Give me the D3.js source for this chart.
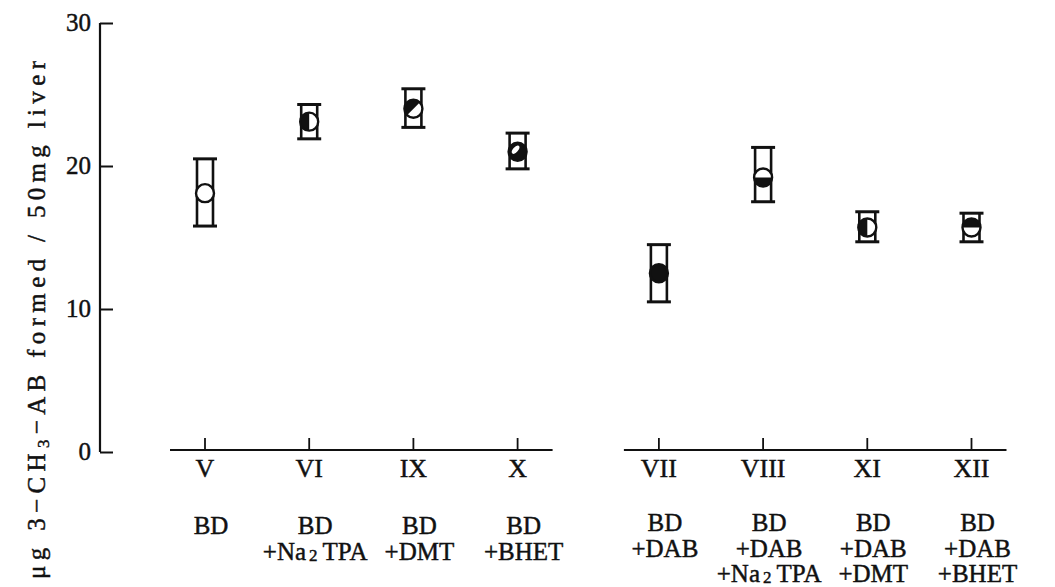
<!DOCTYPE html>
<html>
<head>
<meta charset="utf-8">
<script src="https://cdn.jsdelivr.net/npm/d3@7"></script>
<style>
  html, body { margin: 0; padding: 0; background: #fff; }
  svg { display: block; }
</style>
</head>
<body>
<svg id="chart" width="1055" height="587"></svg>
<script>
// Experimental groups (roman numerals) and their diet descriptions
const groups = ["V", "VI", "IX", "X", "VII", "VIII", "XI", "XII"];
const diets = [
  ["BD"],
  ["BD", "+Na|2|TPA"],
  ["BD", "+DMT"],
  ["BD", "+BHET"],
  ["BD", "+DAB"],
  ["BD", "+DAB", "+Na|2|TPA"],
  ["BD", "+DAB", "+DMT"],
  ["BD", "+DAB", "+BHET"]
];
// Which panel block each group sits in (two blocks on the baseline)
const block = [0, 0, 0, 0, 1, 1, 1, 1];
// Mean amount of 3-CH3-AB formed and the error range
const means = [18.1, 23.1, 24.0, 21.0, 12.5, 19.2, 15.7, 15.7];
const lows  = [15.8, 21.9, 22.7, 19.8, 10.5, 17.5, 14.7, 14.7];
const highs = [20.5, 24.3, 25.4, 22.3, 14.5, 21.3, 16.8, 16.7];
// Marker shading for each group
const shading = ["open", "left", "diag", "mostly", "full", "bottom", "left", "top"];
const yTicks = [0, 10, 20, 30];

const serif = "Liberation Serif";
const svg = d3.select("#chart").attr("font-family", serif);
const ink = "#111";

const y = d3.scaleLinear().domain([0, 30]).range([452, 23]);
// slot position: groups spaced evenly, with a wider gap between the two blocks
const blockGap = 0.356;
const slot = i => i + block[i] * blockGap;
const x = d3.scaleLinear().domain([0, 1]).range([205, 309.2]);

// printed-looking text: serif face with a hairline outline for weight
function label(sel) {
  return sel.attr("font-family", serif).attr("fill", ink)
    .attr("stroke", ink).attr("stroke-width", 0.45);
}

// ---- y axis ----
const yAxis = d3.axisRight(y).tickValues(yTicks).tickSize(13).tickFormat("");
const gy = svg.append("g").attr("transform", "translate(100,0)").call(yAxis);
gy.select(".domain").attr("d", `M0,${y(30)}V${y(0)}`).attr("stroke", ink).attr("stroke-width", 2.2);
gy.selectAll(".tick line").attr("stroke", ink).attr("stroke-width", 2);
svg.append("g").selectAll("text").data(yTicks).join("text")
  .call(label)
  .attr("x", 91).attr("y", d => y(d) + 8)
  .attr("text-anchor", "end")
  .attr("font-size", 25)
  .text(d => d);

// y axis title with subscript
const yt = svg.append("text")
  .call(label)
  .attr("transform", "translate(45,320) rotate(-90)")
  .attr("text-anchor", "middle")
  .attr("font-size", 25)
  .attr("textLength", 518)
  .attr("lengthAdjust", "spacing");
yt.append("tspan").text("μg 3−CH");
yt.append("tspan").attr("font-size", 17).attr("dy", 4).text("3");
yt.append("tspan").attr("dy", -4).text("−AB formed / 50mg liver");

// ---- baseline segments with group ticks ----
const baseY = 450;
[0, 1].forEach(b => {
  const idx = d3.range(groups.length).filter(i => block[i] === b);
  const x0 = x(slot(idx[0])) - 35, x1 = x(slot(idx[idx.length - 1])) + 35;
  svg.append("line").attr("x1", x0).attr("x2", x1).attr("y1", baseY).attr("y2", baseY)
    .attr("stroke", ink).attr("stroke-width", 2.2);
});
svg.append("g").selectAll("line").data(groups).join("line")
  .attr("x1", (d, i) => x(slot(i))).attr("x2", (d, i) => x(slot(i)))
  .attr("y1", baseY).attr("y2", baseY - 12)
  .attr("stroke", ink).attr("stroke-width", 1.8);

// roman numeral labels
svg.append("g").selectAll("text").data(groups).join("text")
  .call(label)
  .attr("x", (d, i) => x(slot(i))).attr("y", 477)
  .attr("text-anchor", "middle").attr("font-size", 26)
  .text(d => d);

// diet labels (lines; "|" marks a subscript segment)
const dietG = svg.append("g");
diets.forEach((lines, i) => {
  lines.forEach((ln, j) => {
    const t = dietG.append("text")
      .call(label)
      .attr("x", x(slot(i)) + 6)
      .attr("y", (block[i] === 0 ? 534 : 531) + j * 25.5)
      .attr("text-anchor", "middle").attr("font-size", 25);
    ln.split("|").forEach((part, k) => {
      const s = t.append("tspan").text(part);
      if (k === 1) s.attr("font-size", 17).attr("dy", 1).attr("dx", 3);
      if (k === 2) s.attr("dy", -1).attr("dx", 5);
    });
  });
});

// ---- error bars: open boxes with caps ----
const halfBox = 8, halfCap = 12, r = 9;
const eb = svg.append("g").attr("stroke", ink).attr("stroke-width", 2.6).attr("fill", "none");
groups.forEach((g, i) => {
  const cx = x(slot(i));
  const yt0 = y(highs[i]), yb0 = y(lows[i]);
  eb.append("line").attr("x1", cx - halfBox).attr("x2", cx - halfBox).attr("y1", yt0).attr("y2", yb0);
  eb.append("line").attr("x1", cx + halfBox).attr("x2", cx + halfBox).attr("y1", yt0).attr("y2", yb0);
  eb.append("line").attr("x1", cx - halfCap).attr("x2", cx + halfCap).attr("y1", yt0).attr("y2", yt0).attr("stroke-width", 3);
  eb.append("line").attr("x1", cx - halfCap).attr("x2", cx + halfCap).attr("y1", yb0).attr("y2", yb0).attr("stroke-width", 3);
});

// ---- markers ----
function halfDisc(cx, cy, rad, phiDeg) {
  const a1 = (phiDeg + 90) * Math.PI / 180, a2 = (phiDeg - 90) * Math.PI / 180;
  const p1 = [cx + rad * Math.cos(a1), cy + rad * Math.sin(a1)];
  const p2 = [cx + rad * Math.cos(a2), cy + rad * Math.sin(a2)];
  return `M${p1[0]},${p1[1]}A${rad},${rad} 0 0 0 ${p2[0]},${p2[1]}Z`;
}
const dirs = { left: 180, right: 0, top: 270, bottom: 90, diag: 225 };
const mk = svg.append("g");
groups.forEach((g, i) => {
  const cx = x(slot(i)), cy = y(means[i]);
  const m = mk.append("g");
  const s = shading[i];
  m.append("circle").attr("cx", cx).attr("cy", cy).attr("r", r)
    .attr("fill", (s === "full" || s === "mostly") ? ink : "#fff");
  if (dirs[s] !== undefined) {
    m.append("path").attr("d", halfDisc(cx, cy, r, dirs[s])).attr("fill", ink);
  }
  if (s === "mostly") {
    m.append("ellipse").attr("cx", cx - 2).attr("cy", cy - 2).attr("rx", 5).attr("ry", 2.5)
      .attr("transform", `rotate(-50,${cx - 2},${cy - 2})`).attr("fill", "#fff");
  }
  m.append("circle").attr("cx", cx).attr("cy", cy).attr("r", r)
    .attr("fill", "none").attr("stroke", ink).attr("stroke-width", 2.4);
});
</script>
</body>
</html>
